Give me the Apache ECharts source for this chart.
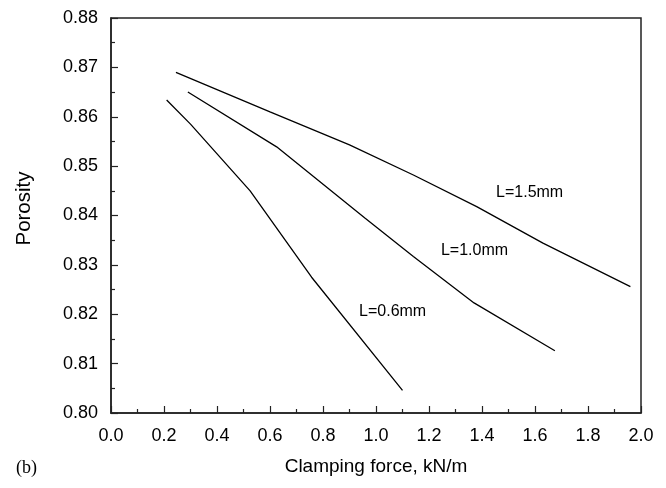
<!DOCTYPE html>
<html>
<head>
<meta charset="utf-8">
<script src="https://cdn.jsdelivr.net/npm/echarts@6/dist/echarts.min.js"></script>
<style>
  html, body { margin: 0; padding: 0; background: #fff; }
  #chart { width: 666px; height: 488px; }
</style>
</head>
<body>
<div id="chart"></div>
<script>
// 三条孔隙率曲线
const curve06 = [[0.21, 0.8634], [0.30, 0.8585], [0.525, 0.845], [0.757, 0.8275], [1.10, 0.8046]];
const curve10 = [[0.29, 0.8650], [0.625, 0.8539], [0.958, 0.8395], [1.141, 0.8317], [1.37, 0.8223], [1.675, 0.8126]];
const curve15 = [[0.245, 0.8690], [0.60, 0.8610], [0.90, 0.8543], [1.141, 0.8482], [1.38, 0.8418], [1.63, 0.8344], [1.96, 0.8256]];

// 曲线标注
const labelNames = ['L=0.6mm', 'L=1.0mm', 'L=1.5mm'];
const labelCoords = [[0.936, 0.8205], [1.245, 0.8328], [1.453, 0.8446]];

const FONT = '"Liberation Sans", Arial, Helvetica, sans-serif';

const chart = echarts.init(document.getElementById('chart'));

function makeSeries(data, idx) {
  return {
    type: 'line',
    data: data,
    showSymbol: false,
    silent: true,
    lineStyle: { color: '#000', width: 1.3 },
    markPoint: {
      symbol: 'circle',
      symbolSize: 0,
      silent: true,
      data: [{
        coord: labelCoords[idx],
        label: {
          show: true,
          formatter: labelNames[idx],
          position: 'right',
          distance: 0,
          color: '#000',
          fontSize: 16,
          fontFamily: FONT
        }
      }]
    }
  };
}

const option = {
  animation: false,
  backgroundColor: '#fff',
  grid: {
    left: 111, right: 25, top: 18, bottom: 75,
    show: true, borderColor: '#222', borderWidth: 1.5
  },
  xAxis: {
    type: 'value',
    min: 0, max: 2.0, interval: 0.2,
    name: 'Clamping force, kN/m',
    nameLocation: 'middle',
    nameGap: 44,
    nameTextStyle: { fontSize: 19, color: '#000', fontFamily: FONT },
    axisLine: { show: true, lineStyle: { color: '#222', width: 1.5 } },
    axisTick: { show: true, inside: true, length: 7, lineStyle: { color: '#222', width: 1.2 } },
    minorTick: { show: true, splitNumber: 2, length: 4, lineStyle: { color: '#222', width: 1.2 } },
    splitLine: { show: false },
    axisLabel: {
      margin: 14, fontSize: 18, color: '#000', fontFamily: FONT,
      formatter: v => v.toFixed(1)
    }
  },
  yAxis: {
    type: 'value',
    min: 0.80, max: 0.88, interval: 0.01,
    name: 'Porosity',
    nameLocation: 'middle',
    nameGap: 76,
    nameTextStyle: { fontSize: 20.5, color: '#000', fontFamily: FONT, padding: [0, 0, 0, 14] },
    axisLine: { show: true, lineStyle: { color: '#222', width: 1.5 } },
    axisTick: { show: true, inside: true, length: 7, lineStyle: { color: '#222', width: 1.2 } },
    minorTick: { show: true, splitNumber: 2, length: 4, lineStyle: { color: '#222', width: 1.2 } },
    splitLine: { show: false },
    axisLabel: {
      margin: 13, fontSize: 18, color: '#000', fontFamily: FONT,
      formatter: v => v.toFixed(2)
    }
  },
  graphic: [{
    type: 'text',
    left: 16, top: 459,
    style: { text: '(b)', fontSize: 18, fill: '#000', fontFamily: '"Liberation Serif", "DejaVu Serif", serif' }
  }],
  series: [makeSeries(curve06, 0), makeSeries(curve10, 1), makeSeries(curve15, 2)]
};

chart.setOption(option);
</script>
</body>
</html>
